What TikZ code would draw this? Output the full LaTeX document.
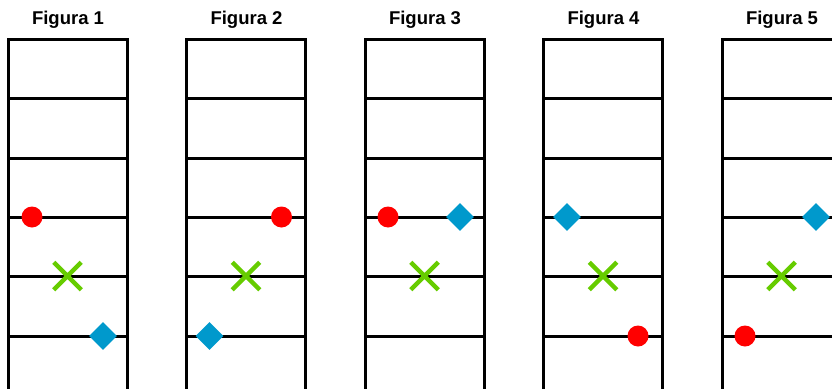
\documentclass[tikz,border=0pt]{standalone}
\usepackage{fontspec}
\setmainfont{Liberation Sans}
\usetikzlibrary{shapes.geometric,shapes.misc}
\definecolor{mred}{HTML}{FF0000}
\definecolor{mgreen}{HTML}{66CC00}
\definecolor{mblue}{HTML}{0099CC}
\tikzset{
  ladder/.style={line width=3pt, black},
  redball/.style={circle, fill=mred, inner sep=0pt, minimum size=21pt},
  bluegem/.style={diamond, fill=mblue, inner sep=0pt, minimum width=28pt, minimum height=28pt},
  greenx/.style={cross out, draw=mgreen, line width=4.5pt, inner sep=0pt, minimum size=23pt},
  title/.style={font=\fontsize{18.5}{22}\selectfont\bfseries, inner sep=0pt}
}
\begin{document}
\begin{tikzpicture}[x=1pt,y=-1pt]
\useasboundingbox (0,0) rectangle (832,388);
\clip (0,0) rectangle (832,388);
\foreach \i in {0,...,4}{
  \pgfmathsetmacro{\L}{8+178.5*\i}
  \pgfmathtruncatemacro{\n}{\i+1}
  \node[title] (t\n) at (\L+60,19.5) {Figura \n};
  \draw[ladder] (\L,395) -- (\L,39) -- (\L+119,39) -- (\L+119,395);
  \foreach \y in {98,158,217,276,336}{
    \draw[ladder] (\L,\y) -- (\L+119,\y);
  }
  \node[greenx] (x\n) at (\L+59.5,276) {};
}
% Figura 1
\node[redball] (r1) at (32,217) {};
\node[bluegem] (d1) at (103,336) {};
% Figura 2
\node[redball] (r2) at (281.5,217) {};
\node[bluegem] (d2) at (209.5,336) {};
% Figura 3
\node[redball] (r3) at (388,217) {};
\node[bluegem] (d3) at (460,217) {};
% Figura 4
\node[bluegem] (d4) at (567,217) {};
\node[redball] (r4) at (638,336) {};
% Figura 5
\node[bluegem] (d5) at (816,217) {};
\node[redball] (r5) at (745,336) {};
\end{tikzpicture}
\end{document}
